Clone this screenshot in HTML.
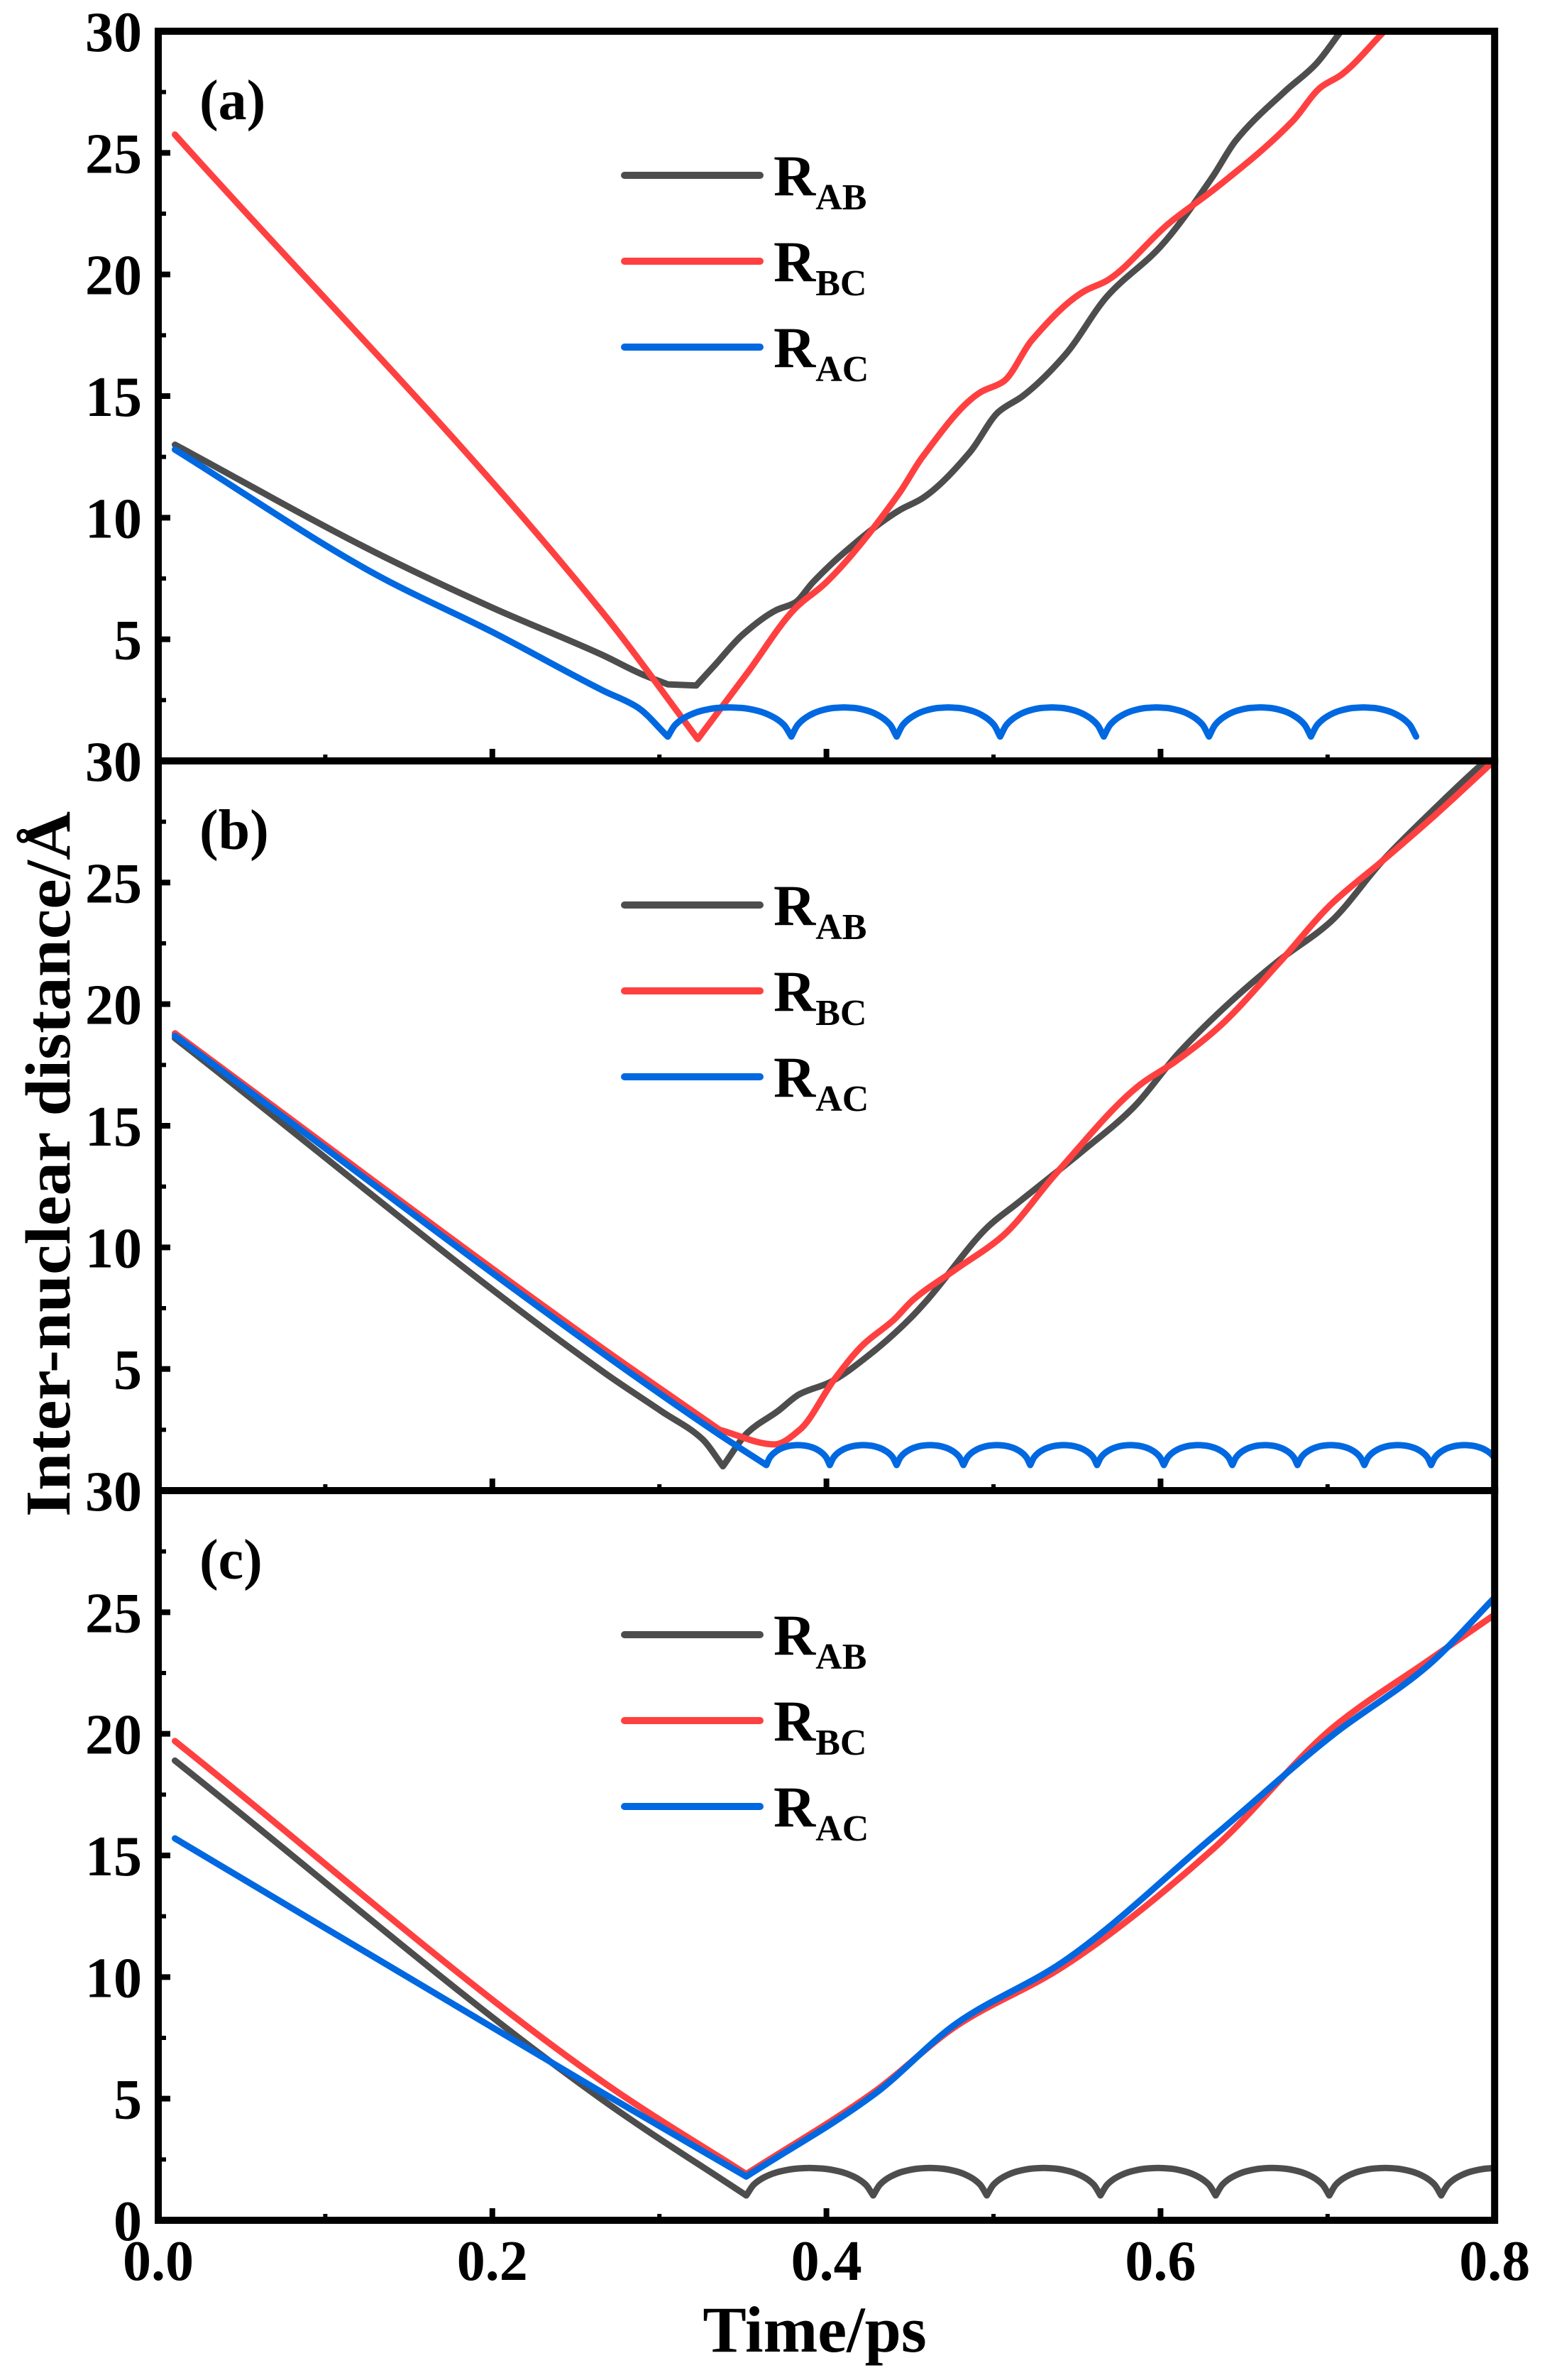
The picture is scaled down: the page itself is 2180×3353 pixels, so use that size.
<!DOCTYPE html>
<html><head><meta charset="utf-8">
<style>
html,body{margin:0;padding:0;background:#fff;}
svg{display:block;}
text{font-family:"Liberation Serif",serif;font-weight:bold;fill:#000;}
</style></head>
<body>
<svg id="chart" width="2180" height="3353" viewBox="0 0 2180 3353" xmlns="http://www.w3.org/2000/svg">
<rect width="2180" height="3353" fill="#fff"/>
<text transform="translate(98,1640) rotate(-90)" text-anchor="middle" font-size="90" textLength="994" lengthAdjust="spacingAndGlyphs">Inter-nuclear distance/Å</text>
<text x="1148" y="3313" text-anchor="middle" font-size="92">Time/ps</text>
</svg>
<script>
// ---------- data ----------
const xTicks = [0.0, 0.2, 0.4, 0.6, 0.8];
const xTickLabels = ["0.0", "0.2", "0.4", "0.6", "0.8"];
const yTicks = [5, 10, 15, 20, 25, 30];
const panelLabels = ["(a)", "(b)", "(c)"];
const seriesNames = ["AB", "BC", "AC"];

// panel (a)
const aAB_t = [0.01,0.132,0.2,0.266,0.29,0.305,0.322,0.332,0.35,0.37,0.381,0.392,0.4095,0.4435,0.4575,0.486,0.503,0.5175,0.543,0.568,0.6,0.631,0.645,0.674,0.693,0.708];
const aAB_v = [13.0,8.5,6.3,4.35,3.55,3.15,3.1,3.85,5.2,6.2,6.5,7.35,8.5,10.3,10.8,12.7,14.35,15.0,16.7,19.1,21.15,24.0,25.5,27.5,28.65,30.0];
const aAB_cusps = [0.305,0.322];
const aBC_t = [0.01,0.266,0.323,0.353,0.381,0.4,0.4435,0.4575,0.492,0.506,0.523,0.554,0.568,0.605,0.634,0.679,0.696,0.708,0.734];
const aBC_v = [25.75,6.1,0.9,3.65,6.25,7.35,11.0,12.5,15.15,15.6,17.3,19.3,19.75,22.1,23.6,26.3,27.7,28.2,30.0];
const aBC_cusps = [0.323];
const aAC_t = [0.01,0.132,0.2,0.266,0.287];
const aAC_v = [12.8,7.6,5.3,2.9,2.2];
const aAC_cusps = [];
const aAC_dips = [0.305,0.379,0.442,0.504,0.566,0.629,0.690,0.753];
const aAC_low = 1.0;
const aAC_high = 2.2;

// panel (b)
const bAB_t = [0.01,0.267,0.301,0.326,0.338,0.353,0.371,0.384,0.402,0.426,0.45,0.4605,0.4975,0.514,0.554,0.583,0.611,0.642,0.671,0.702,0.733,0.762,0.793,0.8];
const bAB_v = [18.6,4.85,3.27,2.1,1.0,2.4,3.27,3.97,4.45,5.6,7.07,7.85,10.9,11.8,14.0,15.7,18.0,20.1,21.8,23.4,25.9,27.9,29.9,30.3];
const bAB_cusps = [0.338];
const bBC_t = [0.01,0.267,0.336,0.369,0.384,0.405,0.422,0.44,0.452,0.4775,0.506,0.537,0.588,0.608,0.634,0.671,0.702,0.733,0.764,0.798];
const bBC_v = [18.8,5.8,2.5,1.9,2.5,4.6,6.0,7.0,7.85,9.1,10.5,13.0,16.7,17.6,19.0,21.7,24.1,25.9,27.75,29.9];
const bBC_cusps = [0.336];
const bAC_t = [0.01,0.267,0.336];
const bAC_v = [18.7,5.6,2.3];
const bAC_cusps = [];
const bAC_dips = [0.364,0.402,0.442,0.482,0.522,0.562,0.602,0.643,0.682,0.722,0.762,0.802];
const bAC_low = 1.05;
const bAC_high = 1.87;

// panel (c)
const cAB_t = [0.01,0.267];
const cAB_v = [18.9,4.9];
const cAB_cusps = [];
const cAB_dips = [0.352,0.428,0.496,0.564,0.633,0.701,0.768,0.836];
const cAB_low = 1.02;
const cAB_high = 2.15;
const cBC_t = [0.01,0.267,0.352,0.429,0.478,0.541,0.632,0.704,0.76,0.8];
const cBC_v = [19.7,5.65,1.9,5.3,8.0,10.4,15.3,20.3,23.0,24.9];
const cBC_cusps = [0.352];
const cAC_t = [0.01,0.267,0.352,0.429,0.478,0.541,0.632,0.704,0.76,0.8];
const cAC_v = [15.7,5.2,1.8,5.2,8.1,10.6,15.8,20.0,22.8,25.6];
const cAC_cusps = [0.352];

// ---------- layout ----------
const X0 = 223, XS = 2354;
const panelTop = [44, 1072, 2100];
const panelH = 1028;
const XR = X0 + 0.8 * XS;
const colors = {AB:"#4d4d4d", BC:"#ff4040", AC:"#0068e0"};
const bumpShape = [[0,0],[0.06,0.4],[0.15,0.68],[0.27,0.88],[0.4,0.98],[0.5,1],[0.6,0.98],[0.73,0.88],[0.85,0.68],[0.94,0.4],[1,0]];

const svg = document.getElementById('chart');
const NS = "http://www.w3.org/2000/svg";
function mk(tag, attrs, parent){
  const e = document.createElementNS(NS, tag);
  for (const k in attrs) e.setAttribute(k, attrs[k]);
  (parent||svg).appendChild(e);
  return e;
}
function xScale(t){ return X0 + t * XS; }
function yScale(p, v){ return panelTop[p] + panelH - v * panelH / 30; }

function plain(ts, vs, cusps){
  return ts.map((t,i)=>[t, vs[i], cusps.indexOf(t) >= 0]);
}
function withBumps(ts, vs, cusps, dips, low, high){
  const pts = plain(ts, vs, cusps);
  pts.push([dips[0], low, true]);
  for (let i=0;i<dips.length-1;i++){
    const a=dips[i], b=dips[i+1];
    for (let k=1;k<bumpShape.length;k++){
      const f=bumpShape[k];
      pts.push([a+(b-a)*f[0], low+(high-low)*f[1], k===bumpShape.length-1]);
    }
  }
  return pts;
}
function pathFrom(p, pts){
  const P = pts.map(q=>[xScale(q[0]), yScale(p,q[1]), q[2]]);
  const n = P.length;
  const sec = [];
  for (let i=0;i<n-1;i++) sec.push((P[i+1][1]-P[i][1])/(P[i+1][0]-P[i][0]));
  const mL = [], mR = [];
  for (let i=0;i<n;i++){
    if (i===0){ mL[i]=mR[i]=sec[0]; continue; }
    if (i===n-1){ mL[i]=mR[i]=sec[n-2]; continue; }
    const s0=sec[i-1], s1=sec[i];
    if (P[i][2]){ mL[i]=s0; mR[i]=s1; continue; }
    let m = 0;
    if (s0*s1 > 0){
      const h0=P[i][0]-P[i-1][0], h1=P[i+1][0]-P[i][0];
      m = 3*(h0+h1)/((2*h1+h0)/s0 + (h1+2*h0)/s1);
    }
    mL[i]=mR[i]=m;
  }
  let d = "M"+P[0][0].toFixed(1)+","+P[0][1].toFixed(1);
  for (let i=0;i<n-1;i++){
    const dx = (P[i+1][0]-P[i][0])/3;
    d += " C"+(P[i][0]+dx).toFixed(1)+","+(P[i][1]+mR[i]*dx).toFixed(1)+" "+
         (P[i+1][0]-dx).toFixed(1)+","+(P[i+1][1]-mL[i+1]*dx).toFixed(1)+" "+
         P[i+1][0].toFixed(1)+","+P[i+1][1].toFixed(1);
  }
  return d;
}

const panels = [
  {AB: plain(aAB_t,aAB_v,aAB_cusps), BC: plain(aBC_t,aBC_v,aBC_cusps), AC: withBumps(aAC_t,aAC_v,aAC_cusps,aAC_dips,aAC_low,aAC_high)},
  {AB: plain(bAB_t,bAB_v,bAB_cusps), BC: plain(bBC_t,bBC_v,bBC_cusps), AC: withBumps(bAC_t,bAC_v,bAC_cusps,bAC_dips,bAC_low,bAC_high)},
  {AB: withBumps(cAB_t,cAB_v,cAB_cusps,cAB_dips,cAB_low,cAB_high), BC: plain(cBC_t,cBC_v,cBC_cusps), AC: plain(cAC_t,cAC_v,cAC_cusps)}
];

const defs = mk('defs', {});
panels.forEach((pd, p)=>{
  const top = panelTop[p], bot = top + panelH;
  const cp = mk('clipPath', {id:'clip'+p}, defs);
  mk('rect', {x:X0, y:top, width:XR-X0, height:panelH}, cp);

  const g = mk('g', {});
  
  

  ["AB","BC","AC"].forEach(name=>{
    const path = mk('path', {d: pathFrom(p, pd[name]), fill:'none', stroke:colors[name], 'stroke-width':9, 'stroke-linejoin':'round', 'stroke-linecap':'round', 'clip-path':'url(#clip'+p+')'}, g);
    
    
  });

  const fr = mk('rect', {x:X0, y:top, width:XR-X0, height:panelH, fill:'none', stroke:'#000', 'stroke-width':10}, g);
  
  

  for (let v=2.5; v<30; v+=2.5){
    const major = Math.abs(v % 5) < 0.01;
    const y = yScale(p, v);
    const tk = mk('line', {x1:X0, x2:X0+(major?17:11), y1:y, y2:y, stroke:'#000', 'stroke-width':major?8:6}, g);
    
    
  }
  yTicks.forEach(v=>{
    const lbl = mk('text', {x:200, y:yScale(p,v)+28, 'text-anchor':'end', 'font-size':80}, g);
    lbl.textContent = String(v);
    
    
  });
  if (p === 2){
    const z = mk('text', {x:200, y:yScale(p,0)+28, 'text-anchor':'end', 'font-size':80}, g);
    z.textContent = "0";
    
    
  }
  for (let t=0.1; t<0.8; t+=0.1){
    const major = Math.round(t*10) % 2 === 0;
    const x = xScale(t);
    const tk = mk('line', {x1:x, x2:x, y1:bot, y2:bot-(major?17:9), stroke:'#000', 'stroke-width':major?8:6}, g);
    
    
  }
  const pl = mk('text', {x:281, y:top+124, 'font-size':80}, g);
  pl.textContent = panelLabels[p];
  
  

  const lg = mk('g', {}, g);
  
  
  seriesNames.forEach((name, i)=>{
    const y = top + 203 + i*121;
    const ln = mk('line', {x1:880, x2:1071, y1:y, y2:y, stroke:colors[name], 'stroke-width':10, 'stroke-linecap':'round'}, lg);
    
    
    const tx = mk('text', {x:1090, y:y+28, 'font-size':82}, lg);
    
    
    tx.appendChild(document.createTextNode('R'));
    const ts = mk('tspan', {'font-size':52, dy:20}, tx);
    ts.textContent = name;
  });
});

xTicks.forEach((t,i)=>{
  const l = mk('text', {x:xScale(t), y:3212, 'text-anchor':'middle', 'font-size':80});
  l.textContent = xTickLabels[i];
  
  
});
</script>
</body></html>
